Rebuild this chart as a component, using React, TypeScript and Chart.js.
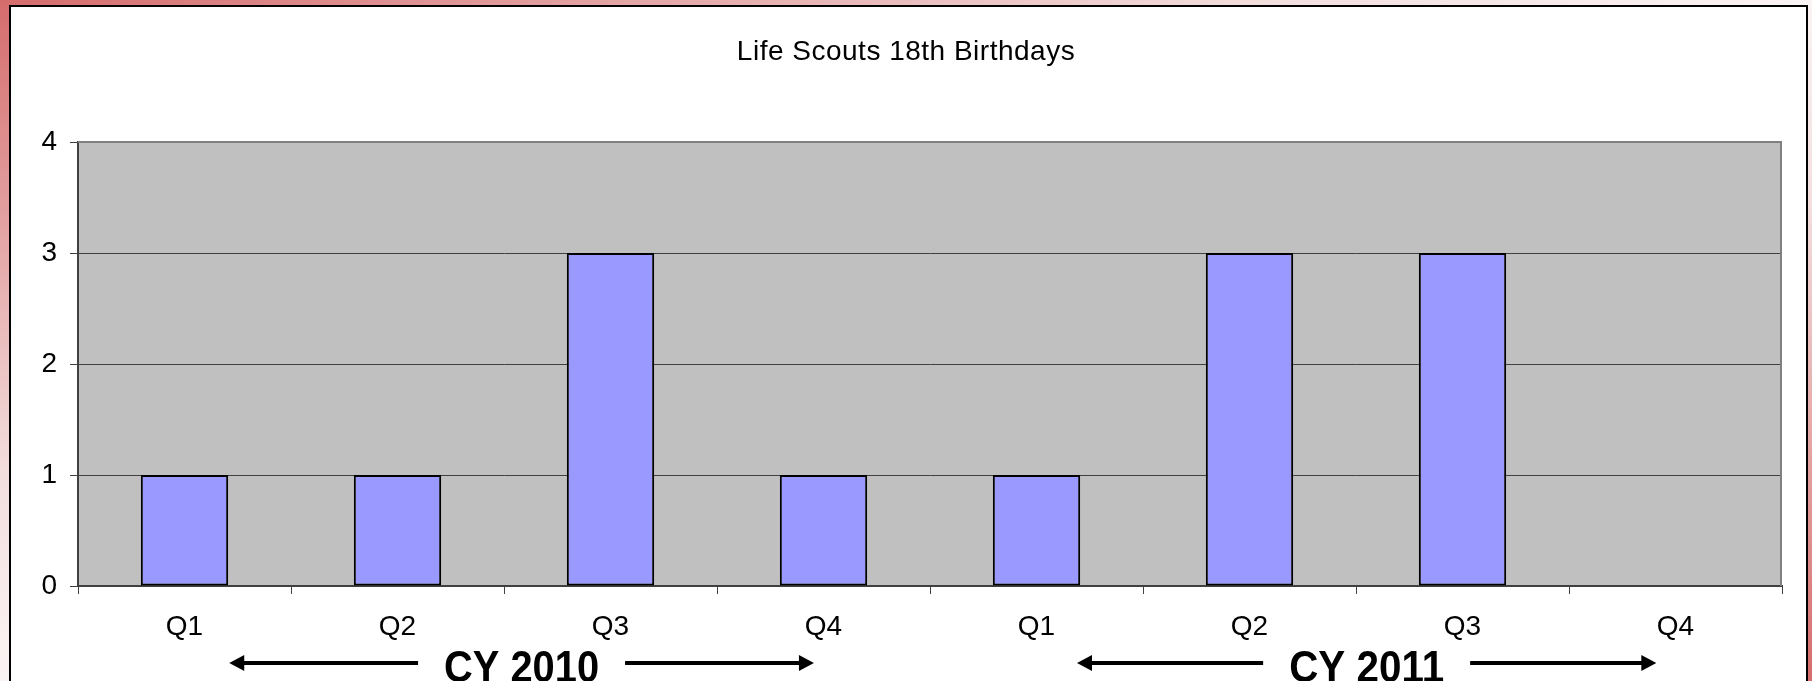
import { useEffect, useRef } from 'react';
import { Chart, registerables } from 'chart.js';

Chart.register(...registerables);

const categories = ['Q1', 'Q2', 'Q3', 'Q4', 'Q1', 'Q2', 'Q3', 'Q4'];
const values = [1, 1, 3, 1, 1, 3, 3, 0];
const yMin = 0;
const yMax = 4;
const yStep = 1;
const chartTitle = 'Life Scouts 18th Birthdays';
const yearLabels = ['CY 2010', 'CY 2011'];
const yearSpans = [
  [0.21, 2.955],
  [4.19, 6.91],
];

const FONT = "'Liberation Sans', Arial, Helvetica, sans-serif";

const decor = {
  id: 'decor',
  beforeDraw(chart: any) {
    const { ctx, chartArea: a } = chart;
    ctx.save();
    ctx.fillStyle = '#c0c0c0';
    ctx.fillRect(a.left, a.top, a.right - a.left, a.bottom - a.top);
    ctx.restore();
  },
  beforeDatasetsDraw(chart: any) {
    const { ctx, chartArea: a } = chart;
    ctx.save();
    ctx.strokeStyle = '#808080';
    ctx.lineWidth = 2;
    ctx.beginPath();
    ctx.moveTo(a.left, a.top);
    ctx.lineTo(a.right - 1, a.top);
    ctx.lineTo(a.right - 1, a.bottom);
    ctx.stroke();
    ctx.restore();
  },
  afterDraw(chart: any) {
    const { ctx, chartArea: a } = chart;
    const xs = chart.scales.x;
    ctx.save();
    // title
    ctx.fillStyle = '#000';
    ctx.font = `28px ${FONT}`;
    try {
      (ctx as any).letterSpacing = '0.5px';
    } catch (e) {}
    ctx.textAlign = 'center';
    ctx.textBaseline = 'alphabetic';
    ctx.fillText(chartTitle, chart.width / 2, 60);
    try {
      (ctx as any).letterSpacing = '0px';
    } catch (e) {}

    // year annotations
    const arrowY = a.bottom + 77;
    const textY = a.bottom + 96;
    const targetW = 155;
    const labelFont = `bold 44px ${FONT}`;

    yearLabels.forEach((label, i) => {
      const x0 = xs.getPixelForValue(yearSpans[i][0]);
      const x1 = xs.getPixelForValue(yearSpans[i][1]);
      const cx = (x0 + x1) / 2;
      ctx.font = labelFont;
      const rawW = ctx.measureText(label).width;
      const sx = Math.min(1, targetW / rawW);
      const w = rawW * sx;
      ctx.fillStyle = '#000';
      ctx.textAlign = 'center';
      ctx.save();
      ctx.translate(cx, textY);
      ctx.scale(sx, 1);
      ctx.fillText(label, 0, 0);
      ctx.restore();
      const gap = 26;
      const head = 15;
      const hh = 8;
      ctx.strokeStyle = '#000';
      ctx.lineWidth = 4;
      // left arrow
      ctx.beginPath();
      ctx.moveTo(x0 + head - 2, arrowY);
      ctx.lineTo(cx - w / 2 - gap, arrowY);
      ctx.stroke();
      ctx.beginPath();
      ctx.moveTo(x0, arrowY);
      ctx.lineTo(x0 + head, arrowY - hh);
      ctx.lineTo(x0 + head, arrowY + hh);
      ctx.closePath();
      ctx.fill();
      // right arrow
      ctx.beginPath();
      ctx.moveTo(cx + w / 2 + gap, arrowY);
      ctx.lineTo(x1 - head + 2, arrowY);
      ctx.stroke();
      ctx.beginPath();
      ctx.moveTo(x1, arrowY);
      ctx.lineTo(x1 - head, arrowY - hh);
      ctx.lineTo(x1 - head, arrowY + hh);
      ctx.closePath();
      ctx.fill();
    });
    ctx.restore();
  },
};

export default function App() {
  const ref = useRef<HTMLCanvasElement>(null);

  useEffect(() => {
    document.body.style.margin = '0';
    document.body.style.overflow = 'hidden';
    const canvas = ref.current!;
    const chart = new Chart(canvas, {
      type: 'bar',
      data: {
        labels: categories,
        datasets: [
          {
            data: values,
            backgroundColor: '#9999ff',
            borderColor: '#000000',
            borderWidth: 2,
            borderSkipped: false,
            barPercentage: 0.41,
            categoryPercentage: 1,
          },
        ],
      },
      options: {
        animation: false,
        responsive: false,
        maintainAspectRatio: false,
        devicePixelRatio: 1,
        layout: { padding: { left: 0, right: 30, top: 142, bottom: 0 } },
        plugins: {
          legend: { display: false },
          title: { display: false },
          tooltip: { enabled: false },
        },
        scales: {
          x: {
            afterFit: (s: any) => {
              s.height = 95;
            },
            grid: {
              display: true,
              drawOnChartArea: false,
              drawTicks: true,
              tickLength: 8,
              color: '#404040',
              offset: true,
            },
            border: { display: true, color: '#404040', width: 2 },
            ticks: {
              color: '#000',
              font: { family: FONT, size: 28 },
              padding: 16,
              maxRotation: 0,
              autoSkip: false,
            },
          },
          y: {
            min: yMin,
            max: yMax,
            afterFit: (s: any) => {
              s.width = 78;
            },
            grid: {
              color: '#404040',
              lineWidth: 1,
              tickLength: 8,
              tickColor: '#404040',
            },
            border: { display: true, color: '#404040', width: 2 },
            ticks: {
              stepSize: yStep,
              color: '#000',
              font: { family: FONT, size: 28 },
              padding: 13,
            },
          },
        },
      },
      plugins: [decor],
    });
    return () => chart.destroy();
  }, []);

  return (
    <div
      style={{
        position: 'relative',
        width: 1812,
        height: 681,
        overflow: 'hidden',
        background:
          'linear-gradient(to bottom right, #d56c6c 0%, #f3dede 35%, #fbf4f4 50%, #f3dede 65%, #d56c6c 100%)',
      }}
    >
      <div
        style={{
          position: 'absolute',
          left: 9,
          top: 5,
          width: 1795,
          height: 720,
          background: '#ffffff',
          border: '2px solid #000',
        }}
      />
      <canvas
        ref={ref}
        width={1812}
        height={681}
        style={{ position: 'absolute', left: 0, top: 0, width: 1812, height: 681 }}
      />
    </div>
  );
}
